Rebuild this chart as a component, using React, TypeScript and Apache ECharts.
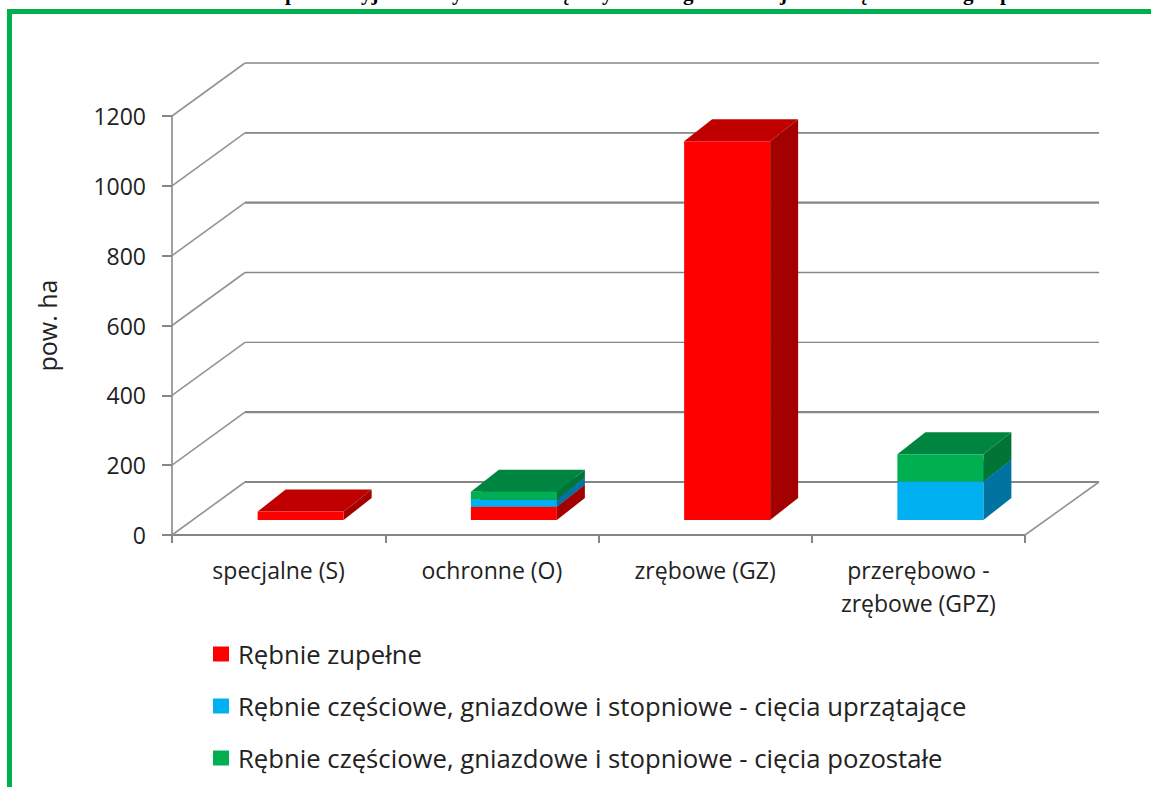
import React, { useEffect, useRef } from "react";
import * as echarts from "echarts";

const categories = ["specjalne (S)", "ochronne (O)", "zrębowe (GZ)", "przerębowo -\nzrębowe (GPZ)"];
const seriesNames = [
  "Rębnie zupełne",
  "Rębnie częściowe, gniazdowe i stopniowe - cięcia uprzątające",
  "Rębnie częściowe, gniazdowe i stopniowe - cięcia pozostałe",
];
const rebnieZupelne = [24, 38, 1085, 0];
const ciecUprzatajace = [0, 21, 0, 110];
const ciecPozostale = [0, 22, 0, 78];
const yTicks = [0, 200, 400, 600, 800, 1000, 1200];
const gridLineWidths = [2.2, 2.2, 1.4, 1.6, 2.2, 1.6, 1.4];
const titleFragments: [string, number][] = [
  ["p", 285], ["yj", 361], ["y", 452], ["ę", 560], ["y", 602],
  ["g", 683], ["j", 780], ["ę", 858], ["g", 963], ["p", 1000],
];

const FONT = "Open Sans";
const GREY = "#868686";
const DEPTH_X = 73;
const DEPTH_Y = 53;
const BAR_W = 86;
const BAR_DX = 28;
const BAR_DY = 22;
const BAR_SHIFT_X = 22;
const BAR_SHIFT_Y = 15;

const stacks = [rebnieZupelne, ciecUprzatajace, ciecPozostale];
const colors = [
  { front: "#FF0000", top: "#C00000", side: "#A30000" },
  { front: "#00B0F0", top: "#0085B5", side: "#0073A0" },
  { front: "#00B050", top: "#008540", side: "#007535" },
];

function barRender(color: { front: string; top: string; side: string }) {
  return (_params: any, api: any) => {
    const i = api.value(0);
    const start = api.value(1);
    const end = api.value(2);
    if (end <= start) return { type: "group", children: [] };
    const b = api.coord([i, start]);
    const t = api.coord([i, end]);
    const x0 = b[0] + BAR_SHIFT_X - BAR_W / 2;
    const x1 = x0 + BAR_W;
    const yb = b[1] - BAR_SHIFT_Y;
    const yt = t[1] - BAR_SHIFT_Y;
    return {
      type: "group",
      children: [
        { type: "polygon", shape: { points: [[x1, yb], [x1 + BAR_DX, yb - BAR_DY], [x1 + BAR_DX, yt - BAR_DY], [x1, yt]] }, style: { fill: color.side } },
        { type: "polygon", shape: { points: [[x0, yt], [x1, yt], [x1 + BAR_DX, yt - BAR_DY], [x0 + BAR_DX, yt - BAR_DY]] }, style: { fill: color.top } },
        { type: "rect", shape: { x: x0, y: yt, width: BAR_W, height: yb - yt }, style: { fill: color.front } },
      ],
    };
  };
}

export default function App() {
  const ref = useRef<HTMLDivElement>(null);
  useEffect(() => {
    const chart = echarts.init(ref.current!, undefined, { renderer: "svg" });
    const barSeries = stacks.map((vals, s) => ({
      type: "custom",
      name: seriesNames[s],
      coordinateSystem: "cartesian2d",
      clip: false,
      z: 5 + s,
      itemStyle: { color: colors[s].front },
      encode: { x: 0, y: [1, 2] },
      renderItem: barRender(colors[s]),
      data: vals.map((v, i) => {
        let base = 0;
        for (let k = 0; k < s; k++) base += stacks[k][i];
        return [i, base, base + v];
      }),
    }));
    chart.setOption({
      animation: false,
      backgroundColor: "#fff",
      textStyle: { fontFamily: FONT },
      grid: { left: 172, right: 126, top: 116, bottom: 252 },
      xAxis: {
        type: "category",
        data: categories,
        axisLine: { lineStyle: { color: GREY, width: 2 } },
        axisTick: { show: true, alignWithLabel: false, length: 8, lineStyle: { color: GREY, width: 2 } },
        axisLabel: { color: "#222", fontSize: 23, fontFamily: FONT, margin: 18, lineHeight: 33, interval: 0 },
      },
      yAxis: {
        type: "value",
        min: 0,
        max: 1200,
        interval: 200,
        name: "pow. ha",
        nameLocation: "middle",
        nameGap: 113,
        nameTextStyle: { color: "#222", fontSize: 25, fontFamily: FONT },
        axisLine: { show: true, lineStyle: { color: "#A0A0A0", width: 2 } },
        axisTick: { show: true, length: 10, lineStyle: { color: GREY, width: 2 } },
        axisLabel: { color: "#222", fontSize: 23, fontFamily: FONT, margin: 26, formatter: (v: number) => String(v) },
        splitLine: { show: false },
      },
      legend: {
        orient: "vertical",
        left: 208,
        top: 636,
        itemWidth: 16,
        itemHeight: 15,
        itemGap: 26,
        icon: "rect",
        selectedMode: false,
        data: seriesNames,
        textStyle: { color: "#222", fontSize: 25.7, fontFamily: FONT, padding: [0, 0, 0, 4], lineHeight: 23 },
      },
      graphic: [
        { type: "rect", shape: { x: 7, y: 9, width: 5, height: 778 }, style: { fill: "#00B050" } },
        { type: "rect", shape: { x: 7, y: 9, width: 1144, height: 5 }, style: { fill: "#00B050" } },
        ...titleFragments.map(([t, x]) => ({
          type: "text",
          x,
          y: -18,
          style: { text: t, font: 'bold 21px "Liberation Serif"', fill: "#000" },
        })),
      ],
      series: [
        {
          type: "custom",
          coordinateSystem: "cartesian2d",
          clip: false,
          z: 1,
          silent: true,
          encode: { x: 0, y: 1 },
          data: yTicks.map((t, i) => [0, t, gridLineWidths[i]]),
          renderItem: (params: any, api: any) => {
            const cs = params.coordSys;
            const y = api.coord([0, api.value(1)])[1];
            const xl = cs.x;
            const xr = cs.x + cs.width;
            const w = api.value(2);
            const children: any[] = [
              { type: "line", shape: { x1: xl, y1: y, x2: xl + DEPTH_X, y2: y - DEPTH_Y }, style: { stroke: "#949494", lineWidth: 1.6 } },
              { type: "line", shape: { x1: xl + DEPTH_X, y1: y - DEPTH_Y, x2: xr + DEPTH_X + 1, y2: y - DEPTH_Y }, style: { stroke: GREY, lineWidth: w } },
            ];
            if (api.value(1) === 0) {
              children.push({ type: "line", shape: { x1: xr, y1: y, x2: xr + DEPTH_X + 1, y2: y - DEPTH_Y }, style: { stroke: "#949494", lineWidth: 1.6 } });
            }
            return { type: "group", children };
          },
        },
        ...barSeries,
      ],
    });
    return () => chart.dispose();
  }, []);
  return (
    <div
      ref={ref}
      style={{ position: "fixed", left: 0, top: 0, width: 1151, height: 787, overflow: "hidden" }}
    />
  );
}
